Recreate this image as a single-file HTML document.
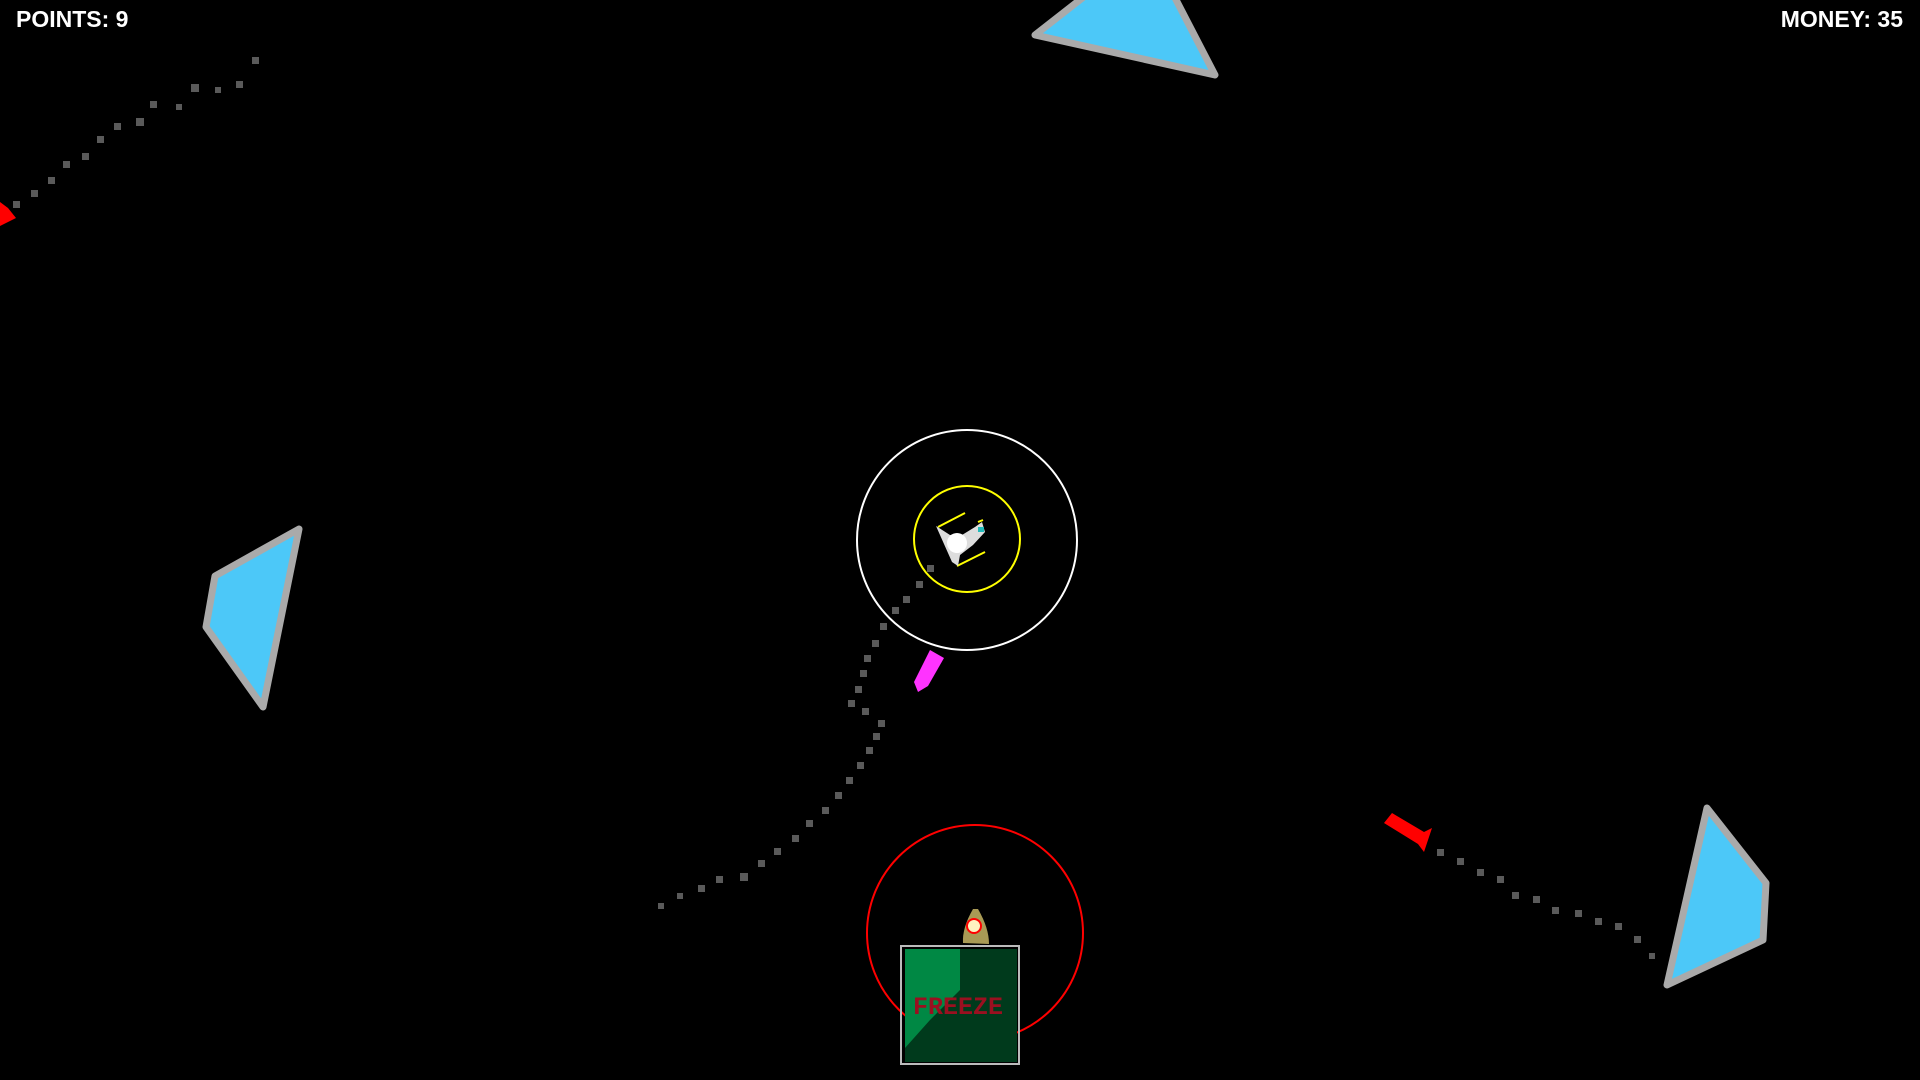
<!DOCTYPE html>
<html><head><meta charset="utf-8"><style>
html,body{margin:0;padding:0;background:#000;width:1920px;height:1080px;overflow:hidden}
.t{position:absolute;top:6px;color:#fff;font:bold 23px "Liberation Sans",sans-serif}
</style></head><body>
<div class="t" style="left:16px">POINTS: 9</div>
<div class="t" style="right:17px">MONEY: 35</div>
<svg width="1920" height="1080" style="position:absolute;left:0;top:0">
<g stroke="#aaa" stroke-width="7" stroke-linejoin="round" fill="#4cc8f8">
<polygon points="1035,35 1090,-8 1172,-8 1215,75"/>
<polygon points="215,576 299,529 263,707 206,627"/>
<polygon points="1707,808 1766,883 1763,940 1667,985"/>
</g>
<g fill="#5a5a5a">
<rect x="252" y="57" width="7" height="7"/><rect x="236" y="81" width="7" height="7"/><rect x="215" y="87" width="6" height="6"/>
<rect x="191" y="84" width="8" height="8"/><rect x="176" y="104" width="6" height="6"/><rect x="150" y="101" width="7" height="7"/>
<rect x="136" y="118" width="8" height="8"/><rect x="114" y="123" width="7" height="7"/><rect x="97" y="136" width="7" height="7"/>
<rect x="82" y="153" width="7" height="7"/><rect x="63" y="161" width="7" height="7"/><rect x="48" y="177" width="7" height="7"/>
<rect x="31" y="190" width="7" height="7"/><rect x="13" y="201" width="7" height="7"/>
<rect x="658" y="903" width="6" height="6"/><rect x="677" y="893" width="6" height="6"/><rect x="698" y="885" width="7" height="7"/>
<rect x="716" y="876" width="7" height="7"/><rect x="740" y="873" width="8" height="8"/><rect x="758" y="860" width="7" height="7"/>
<rect x="774" y="848" width="7" height="7"/><rect x="792" y="835" width="7" height="7"/><rect x="806" y="820" width="7" height="7"/>
<rect x="822" y="807" width="7" height="7"/><rect x="835" y="792" width="7" height="7"/><rect x="846" y="777" width="7" height="7"/>
<rect x="857" y="762" width="7" height="7"/><rect x="866" y="747" width="7" height="7"/><rect x="873" y="733" width="7" height="7"/>
<rect x="878" y="720" width="7" height="7"/><rect x="862" y="708" width="7" height="7"/><rect x="848" y="700" width="7" height="7"/>
<rect x="855" y="686" width="7" height="7"/><rect x="860" y="670" width="7" height="7"/><rect x="864" y="655" width="7" height="7"/>
<rect x="872" y="640" width="7" height="7"/><rect x="880" y="623" width="7" height="7"/><rect x="892" y="607" width="7" height="7"/>
<rect x="903" y="596" width="7" height="7"/><rect x="916" y="581" width="7" height="7"/><rect x="927" y="565" width="7" height="7"/>
<rect x="1437" y="849" width="7" height="7"/><rect x="1457" y="858" width="7" height="7"/><rect x="1477" y="869" width="7" height="7"/>
<rect x="1497" y="876" width="7" height="7"/><rect x="1512" y="892" width="7" height="7"/><rect x="1533" y="896" width="7" height="7"/>
<rect x="1552" y="907" width="7" height="7"/><rect x="1575" y="910" width="7" height="7"/><rect x="1595" y="918" width="7" height="7"/>
<rect x="1615" y="923" width="7" height="7"/><rect x="1634" y="936" width="7" height="7"/><rect x="1649" y="953" width="6" height="6"/>
</g>
<circle cx="967" cy="540" r="110" fill="none" stroke="#fff" stroke-width="2"/>
<circle cx="967" cy="539" r="53" fill="none" stroke="#ff0" stroke-width="2"/>
<g stroke="#ff0" stroke-width="2"><line x1="938" y1="527" x2="965" y2="513"/><line x1="957" y1="566" x2="985" y2="552"/><line x1="978" y1="522" x2="983" y2="520"/></g>
<path d="M936,526 L950,535 L962,535 L975,527 L982,522 L985,532 L973,545 L960,555 L958,566 L952,562 L948,553 L940,535Z" fill="#ddd"/>
<circle cx="957" cy="543" r="10" fill="#fff"/>
<rect x="978" y="527" width="6" height="5" fill="#2bb"/>
<path d="M930,650 L944,658 L928,686 L918,692 L914,682 Z" fill="#f3f"/>
<path d="M1384,823 L1392,813 L1424,832 L1432,828 L1424,852 L1418,844 Z" fill="#f00"/>
<path d="M0,202 L8,208 L16,218 L0,226 Z" fill="#f00"/>
<circle cx="975" cy="933" r="108" fill="none" stroke="#f00" stroke-width="2"/>
<path d="M973,909 Q962,928 963,943 L989,944 Q989,928 978,909Z" fill="#a99a55"/>
<circle cx="974" cy="926" r="7" fill="#fff3c0" stroke="#f00" stroke-width="2"/>
<rect x="901" y="946" width="118" height="118" fill="none" stroke="#bbb" stroke-width="2"/>
<rect x="905" y="949" width="112" height="113" fill="#003a1c"/>
<path d="M905,949 L960,949 L960,990 L930,1020 L905,1048 Z" fill="#008844"/>
<text x="958" y="1014" text-anchor="middle" fill="#9a1020" font-family="Liberation Mono,monospace" font-weight="bold" font-size="25">FREEZE</text>
</svg>
</body></html>
